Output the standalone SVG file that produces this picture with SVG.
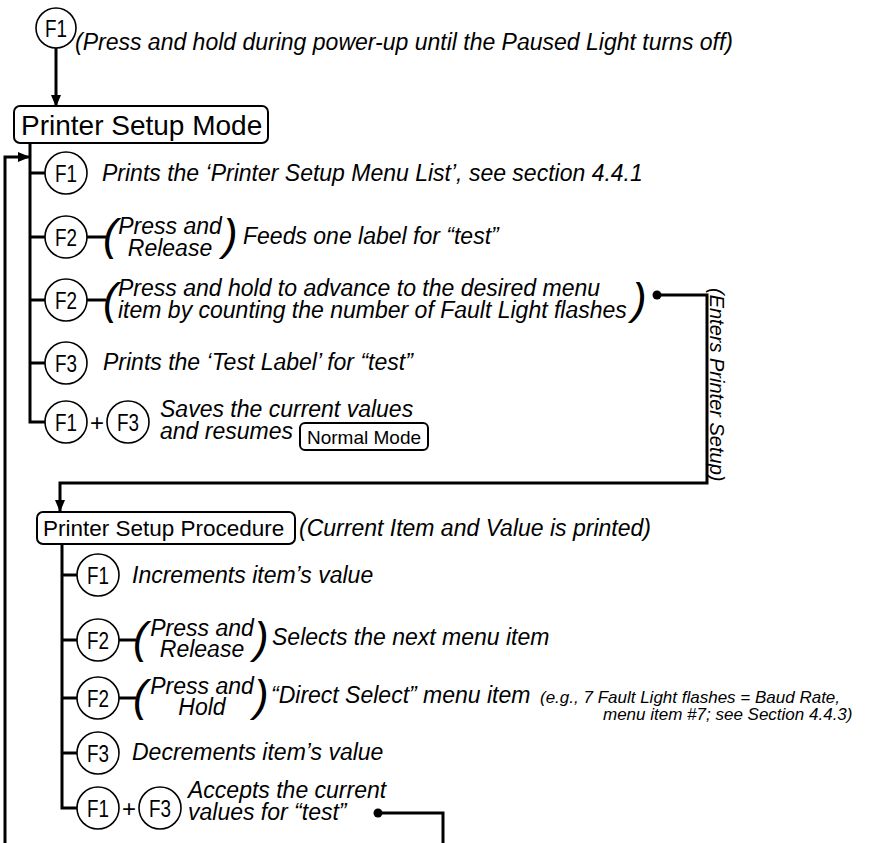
<svg xmlns="http://www.w3.org/2000/svg" width="872" height="843" viewBox="0 0 872 843">
<defs>
<marker id="ah" markerWidth="12" markerHeight="10" refX="11" refY="5" orient="auto" markerUnits="userSpaceOnUse">
<path d="M0,0 L12,5 L0,10 Z" fill="#000"/>
</marker>
<style>
.t{font-family:"Liberation Sans",Arial,sans-serif;font-style:italic;font-size:23px;fill:#000}
.s{font-family:"Liberation Sans",Arial,sans-serif;font-style:italic;font-size:17px;fill:#000}
.v{font-family:"Liberation Sans",Arial,sans-serif;font-style:italic;font-size:20px;fill:#000}
.b{font-family:"Liberation Sans",Arial,sans-serif;fill:#000}
.p{font-family:"Liberation Sans",Arial,sans-serif;font-style:italic;font-size:44px;fill:#000}
.k{font-family:"Liberation Sans",Arial,sans-serif;font-size:24px;fill:#000;text-anchor:middle}
.c{fill:#fff;stroke:#000;stroke-width:1.6}
.box{fill:#fff;stroke:#000;stroke-width:2}
.ln{fill:none;stroke:#000;stroke-width:3}
.pl{font-family:"Liberation Sans",Arial,sans-serif;font-size:24px;fill:#000;text-anchor:middle}
</style>
</defs>
<g id="connectors">
<line class="ln" x1="56" y1="48" x2="56" y2="106" marker-end="url(#ah)"/>
<polyline class="ln" points="30,143 30,422 46,422"/>
<line class="ln" x1="30" y1="173" x2="46" y2="173"/>
<line class="ln" x1="30" y1="237" x2="46" y2="237"/>
<line class="ln" x1="30" y1="300" x2="46" y2="300"/>
<line class="ln" x1="30" y1="363" x2="46" y2="363"/>
<line class="ln" x1="86" y1="237" x2="106" y2="237"/>
<line class="ln" x1="86" y1="300" x2="106" y2="300"/>
<polyline class="ln" points="5,843 5,157 29,157" marker-end="url(#ah)"/>
<circle cx="657" cy="295" r="4.5" fill="#000"/>
<polyline class="ln" points="657,295 707,295 707,483 60,483 60,511" marker-end="url(#ah)"/>
<polyline class="ln" points="62,544 62,808 78,808"/>
<line class="ln" x1="62" y1="575" x2="78" y2="575"/>
<line class="ln" x1="62" y1="640" x2="78" y2="640"/>
<line class="ln" x1="62" y1="698" x2="78" y2="698"/>
<line class="ln" x1="62" y1="753" x2="78" y2="753"/>
<line class="ln" x1="118" y1="640" x2="136" y2="640"/>
<line class="ln" x1="118" y1="698" x2="136" y2="698"/>
<circle cx="378" cy="813" r="4.5" fill="#000"/>
<polyline class="ln" points="378,813 443,813 443,843"/>
</g>
<g id="start">
<circle class="c" cx="56" cy="28" r="20"/>
<text class="k" x="56" y="37" textLength="22" lengthAdjust="spacingAndGlyphs">F1</text>
<text class="t" x="75" y="50" font-size="23.3">(Press and hold during power-up until the Paused Light turns off)</text>
</g>
<g id="setup-mode">
<rect class="box" x="14" y="106" width="254" height="37" rx="6"/>
<text class="b" x="21" y="135" font-size="28">Printer Setup Mode</text>
</g>
<g id="m1">
<circle class="c" cx="66" cy="173" r="21"/>
<text class="k" x="66" y="182" textLength="22" lengthAdjust="spacingAndGlyphs">F1</text>
<text class="t" x="102" y="181">Prints the ‘Printer Setup Menu List’, see section 4.4.1</text>
</g>
<g id="m2">
<circle class="c" cx="66" cy="237" r="21"/>
<text class="k" x="66" y="246" textLength="22" lengthAdjust="spacingAndGlyphs">F2</text>
<text class="p" x="103" y="250">(</text>
<text class="t" x="170" y="234" text-anchor="middle">Press and</text>
<text class="t" x="170" y="256" text-anchor="middle">Release</text>
<text class="p" x="223" y="250">)</text>
<text class="t" x="243" y="244">Feeds one label for “test”</text>
</g>
<g id="m3">
<circle class="c" cx="66" cy="300" r="21"/>
<text class="k" x="66" y="309" textLength="22" lengthAdjust="spacingAndGlyphs">F2</text>
<text class="p" x="103" y="314">(</text>
<text class="t" x="118" y="296">Press and hold to advance to the desired menu</text>
<text class="t" x="118" y="318">item by counting the number of Fault Light flashes</text>
<text class="p" x="632" y="314">)</text>
</g>
<g id="m4">
<circle class="c" cx="66" cy="363" r="21"/>
<text class="k" x="66" y="372" textLength="22" lengthAdjust="spacingAndGlyphs">F3</text>
<text class="t" x="103" y="370">Prints the ‘Test Label’ for “test”</text>
</g>
<g id="m5">
<circle class="c" cx="66" cy="422" r="21"/>
<text class="k" x="66" y="431" textLength="22" lengthAdjust="spacingAndGlyphs">F1</text>
<text class="pl" x="97" y="431">+</text>
<circle class="c" cx="128" cy="422" r="21"/>
<text class="k" x="128" y="431" textLength="22" lengthAdjust="spacingAndGlyphs">F3</text>
<text class="t" x="160" y="417">Saves the current values</text>
<text class="t" x="160" y="439">and resumes</text>
</g>
<g id="normal-mode">
<rect class="box" x="300" y="423" width="128" height="27" rx="5"/>
<text class="b" x="307" y="444" font-size="19">Normal Mode</text>
</g>
<g id="enters-label">
<text class="v" transform="translate(710,288) rotate(90)">(Enters Printer Setup)</text>
</g>
<g id="setup-procedure">
<rect class="box" x="37" y="512" width="258" height="32" rx="6"/>
<text class="b" x="43" y="536" font-size="22.5">Printer Setup Procedure</text>
<text class="t" x="299" y="536">(Current Item and Value is printed)</text>
</g>
<g id="p1">
<circle class="c" cx="98" cy="575" r="21"/>
<text class="k" x="98" y="584" textLength="22" lengthAdjust="spacingAndGlyphs">F1</text>
<text class="t" x="132" y="583">Increments item’s value</text>
</g>
<g id="p2">
<circle class="c" cx="98" cy="640" r="21"/>
<text class="k" x="98" y="649" textLength="22" lengthAdjust="spacingAndGlyphs">F2</text>
<text class="p" x="133" y="653">(</text>
<text class="t" x="202" y="636" text-anchor="middle">Press and</text>
<text class="t" x="202" y="657" text-anchor="middle">Release</text>
<text class="p" x="254" y="653">)</text>
<text class="t" x="272" y="645">Selects the next menu item</text>
</g>
<g id="p3">
<circle class="c" cx="98" cy="698" r="21"/>
<text class="k" x="98" y="707" textLength="22" lengthAdjust="spacingAndGlyphs">F2</text>
<text class="p" x="133" y="711">(</text>
<text class="t" x="202" y="694" text-anchor="middle">Press and</text>
<text class="t" x="202" y="715" text-anchor="middle">Hold</text>
<text class="p" x="254" y="711">)</text>
<text class="t" x="271" y="703">“Direct Select” menu item</text>
<text class="s" x="540" y="703">(e.g., 7 Fault Light flashes = Baud Rate,</text>
<text class="s" x="603" y="720">menu item #7; see Section 4.4.3)</text>
</g>
<g id="p4">
<circle class="c" cx="98" cy="753" r="21"/>
<text class="k" x="98" y="762" textLength="22" lengthAdjust="spacingAndGlyphs">F3</text>
<text class="t" x="132" y="760">Decrements item’s value</text>
</g>
<g id="p5">
<circle class="c" cx="98" cy="808" r="21"/>
<text class="k" x="98" y="817" textLength="22" lengthAdjust="spacingAndGlyphs">F1</text>
<text class="pl" x="129" y="817">+</text>
<circle class="c" cx="160" cy="808" r="21"/>
<text class="k" x="160" y="817" textLength="22" lengthAdjust="spacingAndGlyphs">F3</text>
<text class="t" x="188" y="798">Accepts the current</text>
<text class="t" x="188" y="820">values for “test”</text>
</g>
</svg>
